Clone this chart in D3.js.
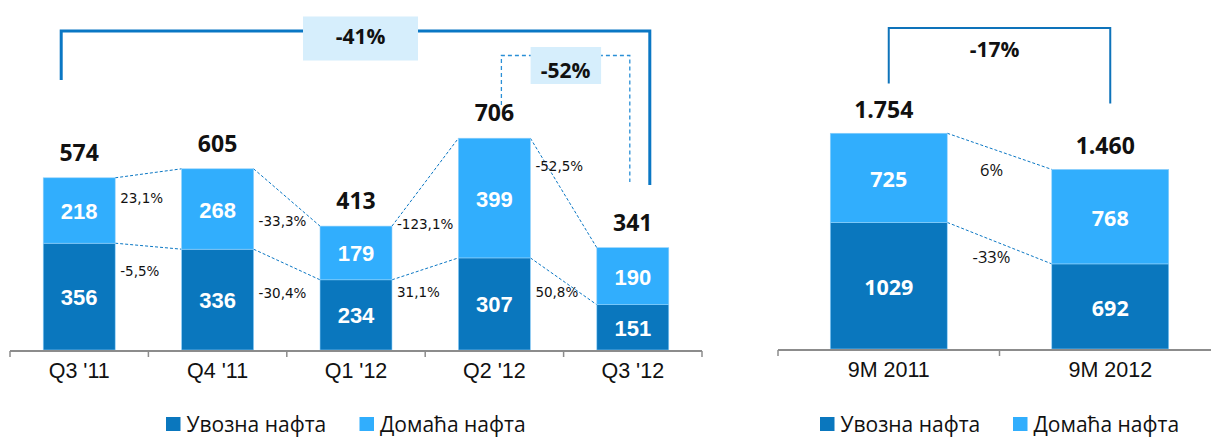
<!DOCTYPE html>
<html><head><meta charset="utf-8">
<script src="https://cdn.jsdelivr.net/npm/d3@7"></script>
<style>body{margin:0;background:#fff}svg{display:block}</style>
</head><body>
<svg id="c" width="1211" height="437"></svg>
<script>
// ---------- data ----------
const quarters = ["Q3 '11", "Q4 '11", "Q1 '12", "Q2 '12", "Q3 '12"];
const qImport = [356, 336, 234, 307, 151];
const qDomestic = [218, 268, 179, 399, 190];
const qTotals = ["574", "605", "413", "706", "341"];
const qChangeImport = ["-5,5%", "-30,4%", "31,1%", "50,8%"];
const qChangeDomestic = ["23,1%", "-33,3%", "-123,1%", "-52,5%"];

const periods = ["9M 2011", "9M 2012"];
const pImport = [1029, 692];
const pDomestic = [725, 768];
const pTotals = ["1.754", "1.460"];
const pChangeImport = ["-33%"];
const pChangeDomestic = ["6%"];

const seriesNames = ["Увозна нафта", "Домаћа нафта"];
const bracketLabels = ["-41%", "-52%", "-17%"];

// ---------- layout (not data) ----------
const qChgImportPos = [247, 172, 178, 178];   // label anchor in value units
const qChgDomesticPos = [491, 413, 402, 598];
const pChgImportPos = [699];
const pChgDomesticPos = [1406];

const DARK = "#0A77BE", LIGHT = "#31AEFD", LINE = "#0A77C4", BOX = "#D6EEFC";
const svg = d3.select("#c");

function drawPanel(o) {
  const x = d3.scaleBand().domain(o.cats).range(o.xr).paddingInner(o.pad).paddingOuter(o.pad / 2);
  const y = d3.scaleLinear().domain(o.yd).range([o.base, o.top]);
  const g = svg.append("g");
  const bw = x.bandwidth();
  const stack = o.cats.map((c, i) => ({c, a: o.imp[i], b: o.dom[i]}));

  // connectors
  for (let i = 0; i < stack.length - 1; i++) {
    const s = stack[i], t = stack[i + 1];
    [[s.a + s.b, t.a + t.b], [s.a, t.a]].forEach(([v0, v1]) => {
      g.append("line").attr("x1", x(s.c) + bw).attr("x2", x(t.c))
        .attr("y1", y(v0)).attr("y2", y(v1))
        .attr("stroke", LINE).attr("stroke-width", 1).attr("stroke-dasharray", "3,2");
    });
  }
  // bars
  g.selectAll(".imp").data(stack).join("rect")
    .attr("x", d => x(d.c)).attr("width", bw)
    .attr("y", d => y(d.a)).attr("height", d => y(0) - y(d.a))
    .attr("fill", DARK).attr("stroke", "#8fd0fb").attr("stroke-width", 0.6);
  g.selectAll(".dom").data(stack).join("rect")
    .attr("x", d => x(d.c)).attr("width", bw)
    .attr("y", d => y(d.a + d.b)).attr("height", d => y(d.a) - y(d.a + d.b))
    .attr("fill", LIGHT).attr("stroke", "#8fd0fb").attr("stroke-width", 0.6);
  // segment labels
  const segStyle = s => s.attr("text-anchor", "middle").attr("dominant-baseline", "central")
    .attr("fill", "#fff").attr("font-weight", "bold")
    .attr("font-family", o.segFont).attr("font-size", o.segSize);
  g.selectAll(".li").data(stack).join("text").call(segStyle)
    .attr("x", d => x(d.c) + bw / 2).attr("y", d => (y(0) + y(d.a)) / 2 + 1).text(d => d.a);
  g.selectAll(".ld").data(stack).join("text").call(segStyle)
    .attr("x", d => x(d.c) + bw / 2).attr("y", d => (y(d.a) + y(d.a + d.b)) / 2 + 1).text(d => d.b);
  // totals
  g.selectAll(".tot").data(stack).join("text")
    .attr("x", d => x(d.c) + bw / 2 + o.totDx).attr("y", d => y(d.a + d.b) - o.totGap)
    .attr("text-anchor", "middle").attr("font-family", "'Open Sans'").attr("font-weight", "bold")
    .attr("font-size", 23).attr("fill", "#111").text((d, i) => o.totals[i]);
  // change labels
  const chg = (labels, pos) => labels.forEach((t, i) => {
    const xx = o.chgMid ? (x(o.cats[i]) + bw + x(o.cats[i + 1])) / 2 - 8 : x(o.cats[i]) + bw + 5;
    g.append("text").attr("x", xx).attr("y", y(pos[i]))
      .attr("text-anchor", o.chgMid ? "middle" : "start")
      .attr("font-family", o.chgFont).attr("font-size", o.chgSize).attr("fill", "#111").text(t);
  });
  chg(o.chgDom, o.chgDomPos);
  chg(o.chgImp, o.chgImpPos);
  // axis
  const ax = g.append("g").attr("transform", `translate(0,${o.base + 1})`)
    .call(d3.axisBottom(x).tickSize(0).tickPadding(11.5));
  ax.select(".domain").remove();
  ax.selectAll("text").attr("font-family", "'Liberation Sans', Arial").attr("font-size", 21.5).attr("fill", "#111");
  g.append("line").attr("x1", o.xr[0]).attr("x2", Math.min(o.xr[1], 1211)).attr("y1", o.base + 1).attr("y2", o.base + 1)
    .attr("stroke", "#8c8c8c").attr("stroke-width", 1.8);
  const step = x.step();
  const bounds = [o.xr[0]].concat(o.cats.slice(1).map(c => x(c) - step * o.pad / 2));
  if (o.xr[1] <= 1211) bounds.push(o.xr[1]);
  bounds.forEach(b => g.append("line").attr("x1", b).attr("x2", b).attr("y1", o.base + 1).attr("y2", o.base + 7)
    .attr("stroke", "#8c8c8c").attr("stroke-width", 1.5));
  // legend
  const lg = g.append("g");
  [[o.leg[0], DARK, seriesNames[0]], [o.leg[1], LIGHT, seriesNames[1]]].forEach(([lx, col, name]) => {
    lg.append("rect").attr("x", lx).attr("y", 417).attr("width", 14.5).attr("height", 14).attr("fill", col);
    lg.append("text").attr("x", lx + 20.5).attr("y", 431.5).attr("font-family", "'Open Sans'")
      .attr("font-size", 21).attr("fill", "#111").text(name);
  });
  return {x, y, bw, g};
}

const L = drawPanel({
  cats: quarters, imp: qImport, dom: qDomestic, totals: qTotals,
  chgImp: qChangeImport, chgDom: qChangeDomestic, chgImpPos: qChgImportPos, chgDomPos: qChgDomesticPos,
  xr: [10, 702], pad: 0.48, yd: [0, 1000], base: 350, top: 50,
  segFont: "'Liberation Sans', Arial", segSize: 22, totGap: 17, totDx: 0,
  chgFont: "'DejaVu Sans'", chgSize: 13.5, chgMid: false, leg: [166, 359.5]
});
const R = drawPanel({
  cats: periods, imp: pImport, dom: pDomestic, totals: pTotals,
  chgImp: pChangeImport, chgDom: pChangeDomestic, chgImpPos: pChgImportPos, chgDomPos: pChgDomesticPos,
  xr: [778, 1221], pad: 0.472, yd: [0, 2000], base: 349, top: 103,
  segFont: "'Open Sans'", segSize: 21.5, totGap: 15, totDx: -5,
  chgFont: "'Open Sans'", chgSize: 16.5, chgMid: true, leg: [820, 1013]
});

// ---------- brackets ----------
function cx(P, c) { return P.x(c) + P.bw / 2; }
// -41% solid bracket
{
  const x0 = cx(L, quarters[0]) - 18, x1 = cx(L, quarters[4]) + 17, yT = 31;
  L.g.append("path").attr("d", `M${x0},80 L${x0},${yT} L${x1},${yT} L${x1},185`)
    .attr("fill", "none").attr("stroke", LINE).attr("stroke-width", 3);
  const mx = (x0 + x1) / 2 + 5;
  L.g.append("rect").attr("x", mx - 57.5).attr("y", 16.5).attr("width", 115).attr("height", 44).attr("fill", BOX);
  L.g.append("text").attr("x", mx).attr("y", 44).attr("text-anchor", "middle")
    .attr("font-family", "'Open Sans'").attr("font-weight", "bold").attr("font-size", 21).attr("fill", "#111")
    .text(bracketLabels[0]);
}
// -52% dashed bracket
{
  const x0 = cx(L, quarters[3]) + 7, x1 = cx(L, quarters[4]) - 3, yT = 55.5;
  L.g.append("path").attr("d", `M${x0},105 L${x0},${yT} L${x1},${yT} L${x1},182`)
    .attr("fill", "none").attr("stroke", "#2a8fd6").attr("stroke-width", 1.3).attr("stroke-dasharray", "4,3");
  const mx = (x0 + x1) / 2;
  L.g.append("rect").attr("x", mx - 35).attr("y", 47).attr("width", 70.5).attr("height", 37).attr("fill", BOX);
  L.g.append("text").attr("x", mx).attr("y", 78).attr("text-anchor", "middle")
    .attr("font-family", "'Open Sans'").attr("font-weight", "bold").attr("font-size", 21).attr("fill", "#111")
    .text(bracketLabels[1]);
}
// -17% bracket
{
  const x0 = cx(R, periods[0]), x1 = cx(R, periods[1]), yT = 28;
  R.g.append("path").attr("d", `M${x0},83.5 L${x0},${yT} L${x1},${yT} L${x1},103.5`)
    .attr("fill", "none").attr("stroke", "#0E73BA").attr("stroke-width", 2);
  R.g.append("text").attr("x", (x0 + x1) / 2 - 5).attr("y", 57).attr("text-anchor", "middle")
    .attr("font-family", "'Open Sans'").attr("font-weight", "bold").attr("font-size", 21).attr("fill", "#111")
    .text(bracketLabels[2]);
}
</script>
</body></html>
